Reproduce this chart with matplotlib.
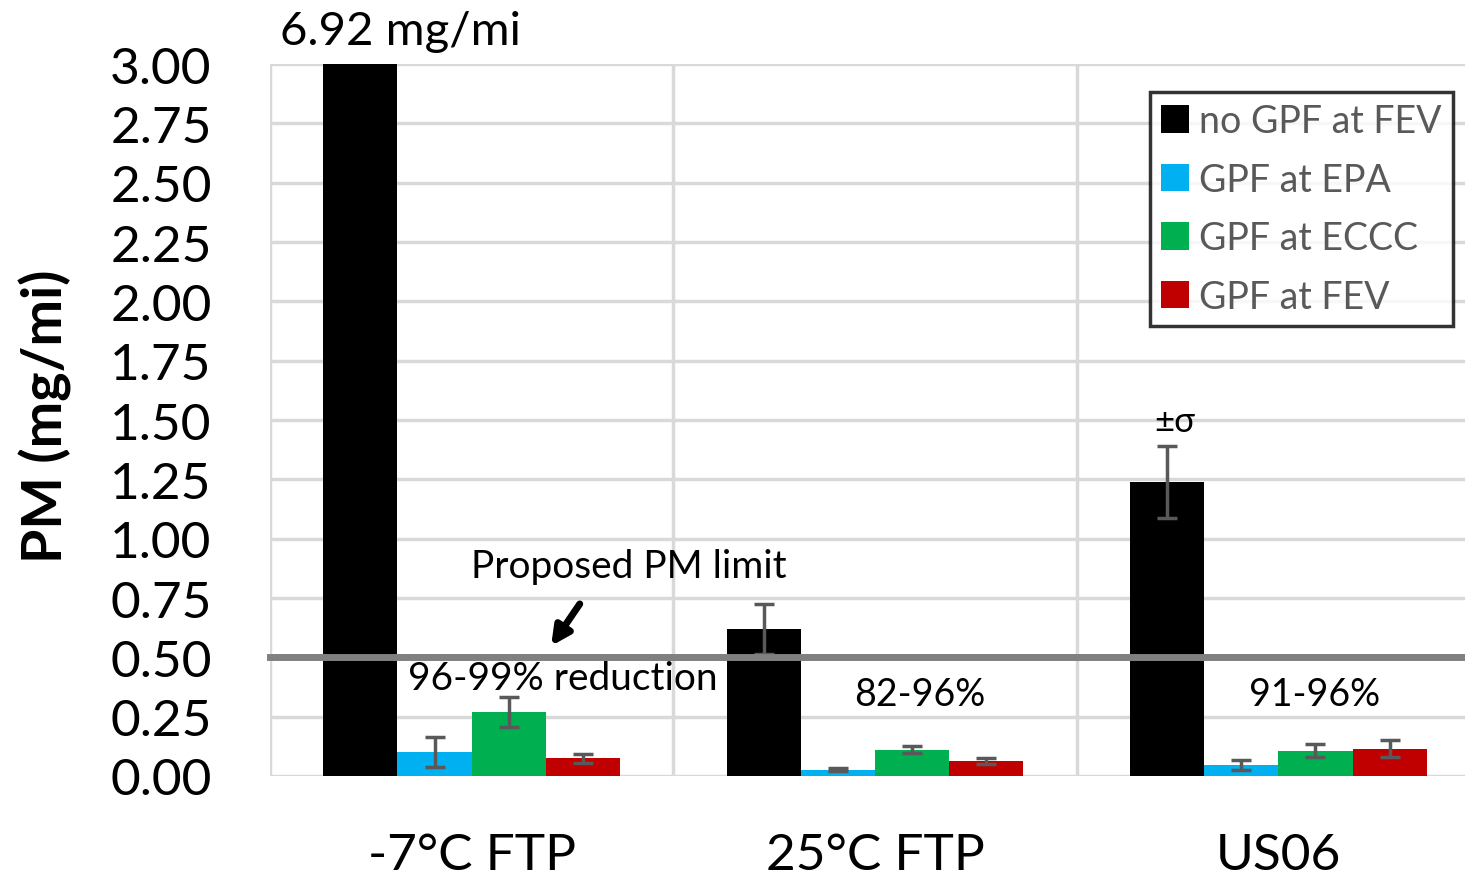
import numpy as np
import matplotlib
matplotlib.use('Agg')
import matplotlib.pyplot as plt

plt.rcParams['font.family'] = ['Lato', 'DejaVu Sans']

categories = ['-7°C FTP', '25°C FTP', 'US06']
series = ['no GPF at FEV', 'GPF at EPA', 'GPF at ECCC', 'GPF at FEV']
colors = ['#000000', '#00B0F0', '#00B050', '#C00000']

# PM (mg/mi) per series, per category
pm = [
    [6.92, 0.62, 1.24],
    [0.10, 0.027, 0.046],
    [0.27, 0.111, 0.107],
    [0.075, 0.063, 0.114],
]
pm_sd = [
    [0.0, 0.105, 0.152],
    [0.063, 0.006, 0.022],
    [0.062, 0.014, 0.026],
    [0.019, 0.012, 0.036],
]
pm_limit = 0.5
reductions = ['96-99% reduction', '82-96%', '91-96%']

fig = plt.figure(figsize=(14.65, 8.78), dpi=100)
ax = fig.add_axes([270 / 1465, 101 / 878, 1210 / 1465, 712 / 878])

x = np.arange(len(categories))
w = 0.184
for i, name in enumerate(series):
    pos = x + (i - 1.5) * w
    ax.bar(pos, pm[i], w, color=colors[i], label=name, zorder=3)
    sd = np.array(pm_sd[i])
    mask = sd > 0
    ax.errorbar(pos[mask], np.array(pm[i])[mask], yerr=sd[mask], fmt='none',
                ecolor='#595959', elinewidth=2.5, capsize=7, capthick=2.5, zorder=4)

ax.axhline(pm_limit, color='#808080', lw=5, zorder=5, clip_on=False)

ax.set_xlim(-0.5, 2.5)
ax.set_ylim(0, 3)
ax.set_yticks(np.arange(0, 3.01, 0.25))
ax.set_yticklabels(['%.2f' % v for v in np.arange(0, 3.01, 0.25)])
ax.set_xticks(x)
ax.set_xticklabels(categories)
ax.tick_params(axis='y', length=0, pad=42, labelsize=37)
ax.tick_params(axis='x', length=0, pad=40, labelsize=37)
fig.text(45 / 1465, 1 - 416 / 878, 'PM (mg/mi)', fontsize=40,
         fontweight='bold', rotation=90, ha='center', va='center')

for v in np.arange(0, 3.01, 0.25):
    ax.axhline(v, color='#d9d9d9', lw=2.5, zorder=1)
for v in [-0.5, 0.5, 1.5, 2.5]:
    ax.axvline(v, color='#d9d9d9', lw=2.5, zorder=1)
for s in ax.spines.values():
    s.set_visible(False)

ax.text(-0.475, 3.085, '%.2f mg/mi' % pm[0][0], fontsize=34,
        ha='left', va='baseline', clip_on=False)
ax.text(0.39, 0.885, 'Proposed PM limit', fontsize=28, ha='center', va='center')
ax.annotate('', xy=(0.197, 0.548), xytext=(0.268, 0.725),
            arrowprops=dict(arrowstyle='-|>,head_length=1.1,head_width=0.55',
                            color='black', lw=5, shrinkA=0, shrinkB=0))
ax.text(0.226, 0.415, reductions[0], fontsize=28, ha='center', va='center')
ax.text(1.11, 0.345, reductions[1], fontsize=27, ha='center', va='center')
ax.text(2.09, 0.345, reductions[2], fontsize=27, ha='center', va='center')
ax.text(1.743, 1.496, '±σ', fontsize=25, ha='center', va='center')

leg = ax.legend(loc='upper left', bbox_to_anchor=(880 / 1210, 0.961),
                fontsize=27, frameon=True, fancybox=False, handlelength=0.75,
                handleheight=0.75, handletextpad=0.25, labelspacing=0.6,
                borderpad=0.3, borderaxespad=0)
leg.get_frame().set_edgecolor('black')
leg.get_frame().set_linewidth(2.5)
for t in leg.get_texts():
    t.set_color('#595959')

fig.savefig('out.png', dpi=100)
